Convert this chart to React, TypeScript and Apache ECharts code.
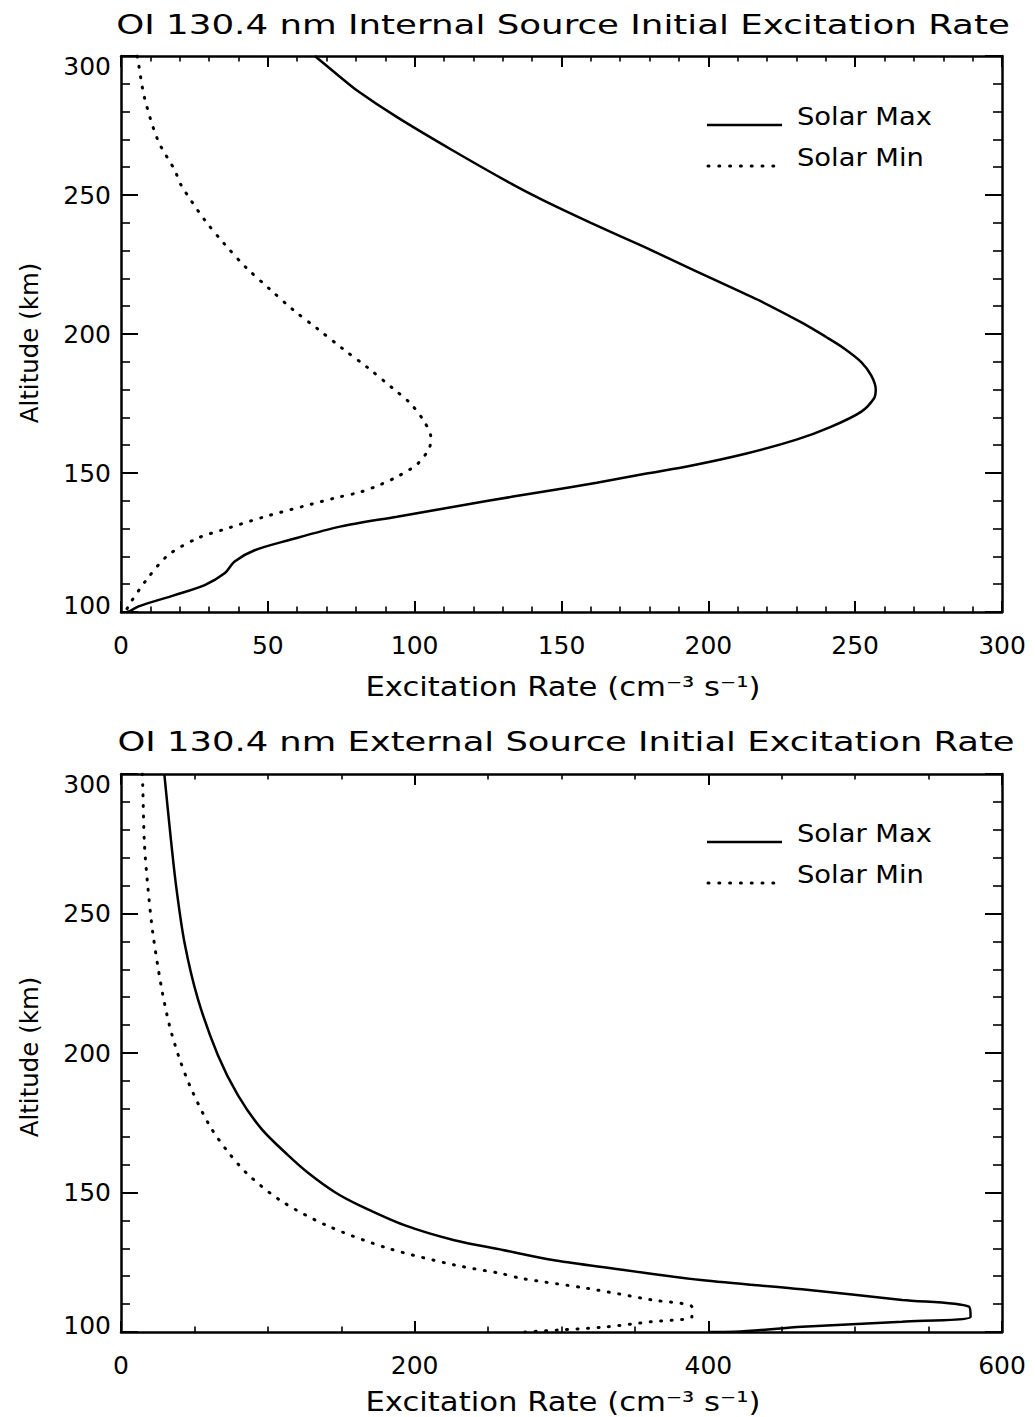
import React, { useEffect, useRef } from 'react';
import * as echarts from 'echarts';

const FONT = '"DejaVu Sans", sans-serif';

// ---- Top panel: internal source (rate in cm^-3 s^-1, altitude in km) ----
const internalMaxAlt = [300, 293, 287.5, 278, 266, 254, 248, 240, 231.4, 223, 214.7, 212, 204, 199, 195, 190, 185, 180, 177, 172, 166.5, 162, 157, 152.6, 149.7, 146.5, 143, 140, 134.3, 130.8, 125.8, 122.2, 118.2, 114, 109.7, 106, 102, 100.3, 100];
const internalMaxRate = [66, 74, 80.5, 94, 113, 133, 144, 160, 178, 195, 212, 217.5, 232, 240, 246, 252, 255.5, 257, 256.5, 252, 241.5, 230, 213, 194, 178.5, 162, 142, 125, 94, 75, 57, 45.5, 38.7, 35.4, 28.5, 18, 6, 3, 2];

const internalMinAlt = [300, 297, 285, 269.6, 258.9, 253.5, 241, 232.3, 223.9, 216.2, 208.8, 201.8, 194.7, 187.9, 180.5, 175.4, 169.4, 162.9, 159, 153.3, 149.1, 145.9, 143.2, 141.4, 138, 134.3, 130, 126.5, 120.4, 112, 103, 100];
const internalMinRate = [5.5, 6, 8, 12.6, 18.3, 20.5, 28.5, 35.3, 42.6, 50.6, 58.5, 67, 75.5, 84, 92.5, 98.2, 102.7, 105.5, 105, 101, 94.8, 88.5, 81.7, 74.4, 62, 49, 36, 26, 16, 9, 3, 1.5];

// ---- Bottom panel: external source ----
const externalMaxAlt = [300, 279, 260, 239.7, 219.5, 199.2, 184.9, 172.9, 163.4, 156.8, 150, 145.5, 138.3, 132.9, 129.4, 125.8, 123.4, 118.6, 115.3, 111.5, 109.1, 105.5, 103.7, 101.9, 100.1, 100];
const externalMaxRate = [29.5, 33.5, 37.5, 43.2, 52.3, 66, 79.6, 95.5, 113.7, 128, 146, 162, 193, 227, 260, 294, 326, 395, 463.8, 532, 577.5, 578.6, 532, 463.8, 418, 400];

const externalMinAlt = [300, 295.8, 275.5, 260, 243.3, 224.2, 209.9, 198, 187.3, 174.1, 164.6, 156.5, 147, 138, 130, 124, 121, 119.2, 115.7, 111.5, 109, 105.5, 103.7, 101.7, 100.7, 100];
const externalMinRate = [14.5, 14.8, 15.9, 18.2, 21.6, 27.3, 33, 39.8, 47.7, 60.2, 72.8, 86.4, 109, 140.9, 181.9, 227.4, 258.5, 272.8, 317, 361.5, 388.8, 388.8, 361.5, 327.4, 297.8, 275];

// ---- Axis settings ----
const altitudeMin = 100;
const altitudeMax = 300;
const altitudeStep = 50;
const topRateMax = 300;
const topRateStep = 50;
const bottomRateMax = 600;
const bottomRateStep = 200;

const titles = [
  'OI 130.4 nm Internal Source Initial Excitation Rate',
  'OI 130.4 nm External Source Initial Excitation Rate',
];
const legendNames = ['Solar Max', 'Solar Min'];
const xName = 'Excitation Rate (cm\u207B\u00B3 s\u207B\u00B9)';
const yName = 'Altitude (km)';

const TICK_FS = 25;

const pairs = (rate: number[], alt: number[]) => alt.map((a, i) => [rate[i], a]);

function xAxes(gridIndex: number, max: number, interval: number, minorSplit: number) {
  const common: any = {
    type: 'value',
    gridIndex,
    min: 0,
    max,
    interval,
    axisLine: { show: true, onZero: false, lineStyle: { color: '#000', width: 2.5 } },
    axisTick: { show: true, inside: true, length: 11, lineStyle: { color: '#000', width: 2 } },
    minorTick: { show: true, splitNumber: minorSplit, length: 5.5, lineStyle: { color: '#000', width: 1.6 } },
    splitLine: { show: false },
    minorSplitLine: { show: false },
  };
  return [
    {
      ...common,
      position: 'bottom',
      axisLabel: { show: true, margin: 21, fontSize: TICK_FS, fontFamily: FONT, color: '#000', showMinLabel: true, showMaxLabel: true },
    },
    { ...common, position: 'top', axisLabel: { show: false } },
  ];
}

function yAxes(gridIndex: number) {
  const base = { fontSize: TICK_FS, fontFamily: FONT, color: '#000' };
  const common: any = {
    type: 'value',
    gridIndex,
    min: altitudeMin,
    max: altitudeMax,
    interval: altitudeStep,
    axisLine: { show: true, onZero: false, lineStyle: { color: '#000', width: 2.5 } },
    axisTick: { show: true, inside: true, length: 17, lineStyle: { color: '#000', width: 2 } },
    minorTick: { show: true, splitNumber: 5, length: 9, lineStyle: { color: '#000', width: 1.6 } },
    splitLine: { show: false },
    minorSplitLine: { show: false },
  };
  return [
    {
      ...common,
      position: 'left',
      axisLabel: {
        show: true,
        margin: 10,
        ...base,
        showMinLabel: true,
        showMaxLabel: true,
        formatter: (v: number) => (v === altitudeMax ? `{hi|${v}}` : v === altitudeMin ? `{lo|${v}}` : `{n|${v}}`),
        rich: {
          n: { ...base },
          hi: { ...base, padding: [21, 0, 0, 0] },
          lo: { ...base, padding: [0, 0, 13, 0] },
        },
      },
    },
    { ...common, position: 'right', axisLabel: { show: false } },
  ];
}

const solidStyle = { color: '#000', width: 2.5 };
const dottedStyle = { color: '#000', width: 3, type: [1, 9.5] as any, cap: 'round' as any };

function lineSeries(name: string, data: number[][], xIdx: number, yIdx: number, style: any) {
  return {
    name,
    type: 'line',
    xAxisIndex: xIdx,
    yAxisIndex: yIdx,
    data,
    showSymbol: false,
    symbol: 'none',
    smooth: 0.3,
    lineStyle: style,
    itemStyle: { color: '#000' },
    clip: true,
    silent: true,
  };
}

function textEl(text: string, x: number, y: number, size: number, scaleX: number, align = 'center', rotation = 0) {
  return {
    type: 'text',
    x,
    y,
    rotation,
    scaleX,
    silent: true,
    style: {
      text,
      font: `${size}px ${FONT}`,
      fill: '#000',
      align,
      textAlign: align,
      verticalAlign: 'middle',
      textVerticalAlign: 'middle',
    },
  };
}

function legendEls(dy: number) {
  return [
    {
      type: 'line',
      silent: true,
      shape: { x1: 707, y1: 125 + dy, x2: 782, y2: 125 + dy },
      style: { stroke: '#000', lineWidth: 2.5 },
    },
    textEl(legendNames[0], 797, 117 + dy, 24, 1.14, 'left'),
    {
      type: 'line',
      silent: true,
      shape: { x1: 708, y1: 166 + dy, x2: 776, y2: 166 + dy },
      style: { stroke: '#000', lineWidth: 3, lineDash: [1, 9.8], lineCap: 'round' },
    },
    textEl(legendNames[1], 797, 158 + dy, 24, 1.14, 'left'),
  ];
}

export default function App() {
  const ref = useRef<HTMLDivElement>(null);
  useEffect(() => {
    document.body.style.margin = '0';
    const chart = echarts.init(ref.current!, null, { renderer: 'svg' });
    const option: any = {
      animation: false,
      backgroundColor: '#fff',
      grid: [
        { left: 121, top: 56, width: 881, height: 556 },
        { left: 121, top: 774, width: 881, height: 558 },
      ],
      xAxis: [
        ...xAxes(0, topRateMax, topRateStep, 5),
        ...xAxes(1, bottomRateMax, bottomRateStep, 4),
      ],
      yAxis: [...yAxes(0), ...yAxes(1)],
      series: [
        lineSeries('Solar Max', pairs(internalMaxRate, internalMaxAlt), 0, 0, solidStyle),
        lineSeries('Solar Min', pairs(internalMinRate, internalMinAlt), 0, 0, dottedStyle),
        lineSeries('Solar Max', pairs(externalMaxRate, externalMaxAlt), 2, 2, solidStyle),
        lineSeries('Solar Min', pairs(externalMinRate, externalMinAlt), 2, 2, dottedStyle),
      ],
      graphic: [
        textEl(titles[0], 563, 25, 27, 1.32),
        textEl(titles[1], 566, 742, 27, 1.31),
        textEl(xName, 563, 687, 26, 1.18),
        textEl(xName, 563, 1402, 26, 1.18),
        textEl(yName, 29, 343, 25, 0.98, 'center', Math.PI / 2),
        textEl(yName, 29, 1057, 25, 0.98, 'center', Math.PI / 2),
        ...legendEls(0),
        ...legendEls(717),
      ],
    };
    chart.setOption(option);
    return () => chart.dispose();
  }, []);
  return <div ref={ref} style={{ width: 1035, height: 1417, background: '#fff' }} />;
}
